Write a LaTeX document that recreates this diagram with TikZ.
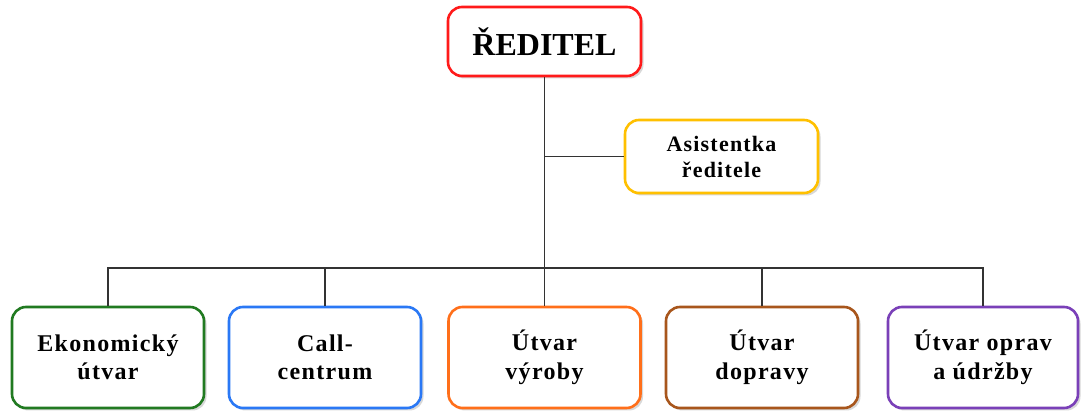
\documentclass[tikz,border=0pt]{standalone}
\usepackage{fontspec}
\setmainfont{Liberation Serif}
\newfontfamily\boxfont[LetterSpace=5.5]{Liberation Serif}
\usetikzlibrary{shadows}
\definecolor{cred}{HTML}{FF1A1A}
\definecolor{cgold}{HTML}{FFC000}
\definecolor{cgreen}{HTML}{217A21}
\definecolor{cblue}{HTML}{2A78F5}
\definecolor{corange}{HTML}{FF6F1A}
\definecolor{cbrown}{HTML}{A8561C}
\definecolor{cpurple}{HTML}{7A40B8}
\definecolor{cline}{HTML}{333333}
\begin{document}
\begin{tikzpicture}[x=1pt,y=1pt,
  orgbox/.style={draw, line width=2.6pt, rounded corners=14pt, fill=white,
    align=center, inner sep=0pt, font=\boxfont\bfseries\fontsize{24}{28.5}\selectfont,
    drop shadow={shadow xshift=2.5pt, shadow yshift=-2.5pt, opacity=0.25, fill=black!60}},
  link/.style={draw=cline, line width=1.4pt}]
\useasboundingbox (0,0) rectangle (1081,412);
\fill[white] (0,0) rectangle (1081,412);
\node[orgbox, draw=cred, minimum width=193pt, minimum height=69pt,
  font=\bfseries\fontsize{32}{36}\selectfont] (dir) at (544.5,370.5) {ŘEDITEL};
\node[orgbox, draw=cgold, minimum width=193pt, minimum height=73pt,
  font=\boxfont\bfseries\fontsize{22}{26}\selectfont] (asst) at (721.5,255.5) {Asistentka\\ředitele};
\node[orgbox, draw=cgreen, minimum width=192pt, minimum height=101pt] (b1) at (108,54.5) {Ekonomický\\útvar};
\node[orgbox, draw=cblue, minimum width=192pt, minimum height=101pt] (b2) at (325,54.5) {Call-\\centrum};
\node[orgbox, draw=corange, minimum width=192pt, minimum height=101pt] (b3) at (544.5,54.5) {Útvar\\výroby};
\node[orgbox, draw=cbrown, minimum width=192pt, minimum height=101pt] (b4) at (762,54.5) {Útvar\\dopravy};
\node[orgbox, draw=cpurple, minimum width=190pt, minimum height=101pt] (b5) at (983,54.5) {Útvar oprav\\a údržby};
\coordinate (bar) at (0,144);
\draw[link] (dir.south) -- (b3.north);
\draw[link] (dir.south |- asst.west) -- (asst.west);
\draw[link] (b1.north) -- (b1.north |- bar) -- (b5.north |- bar) -- (b5.north);
\draw[link] (b2.north) -- (b2.north |- bar);
\draw[link] (b4.north) -- (b4.north |- bar);
\end{tikzpicture}
\end{document}
